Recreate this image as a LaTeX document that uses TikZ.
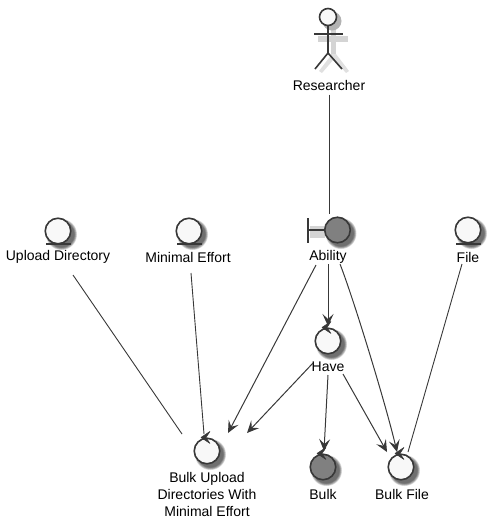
\documentclass[tikz,border=0pt]{standalone}
\usepackage{fontspec}
\setmainfont{Liberation Sans}
\usetikzlibrary{arrows.meta,calc}

\definecolor{linegray}{HTML}{383838}
\definecolor{lightfill}{HTML}{F8F8F8}
\definecolor{darkfill}{HTML}{808080}

\tikzset{
    lbl/.style={inner sep=0pt, font=\fontsize{14}{17}\selectfont, align=center},
    rob/.style={circle, draw=linegray, line width=1.6pt, minimum size=25.5pt, inner sep=0pt, fill=lightfill},
    robdark/.style={rob, fill=darkfill},
    conn/.style={draw=linegray, line width=0.9pt},
    arr/.style={conn, line width=1pt, -{Stealth[length=12pt, width=11pt, inset=5pt]}},
    tick/.style={draw=linegray, fill=linegray, line width=0.5pt, line join=round}
}

% blurred shadow under a circle
\newcommand{\circshadow}[1]{
    \foreach \r in {15.5,15,14.5,14,13.5,13} {
        \fill[black, opacity=0.13] ($(#1)+(3.5,3.5)$) circle (\r pt);
    }
}

\begin{document}
\begin{tikzpicture}[x=1pt, y=-1pt]
    \useasboundingbox (0,0) rectangle (491,528);

    % shadows go first
    \coordinate (sUpload) at (58,231);
    \coordinate (sMinimal) at (189,231);
    \coordinate (sAbility) at (337.5,230);
    \coordinate (sFile) at (468,230);
    \coordinate (sHave) at (328,341);
    \coordinate (sBulkUpload) at (207,451);
    \coordinate (sBulk) at (323,467);
    \coordinate (sBulkFile) at (401,467);
    \foreach \s in {sUpload,sMinimal,sAbility,sFile,sHave,sBulkUpload,sBulk,sBulkFile} {
        \circshadow{\s}
    }
    \fill[black!17] (318,36) rectangle (348,42);
    \fill[black!17] (331,26) rectangle (336,58);
    \fill[black!12] (332,54) -- (319,71) -- (322,73) -- (334,59) -- (346,73) -- (349,71) -- (336,54) -- cycle;
    \fill[black!30] (332,21) circle (9.5pt);
    \fill[black!17] (310,226) rectangle (325,238);

    % actor
    \node[circle, draw=linegray, line width=1.6pt, minimum size=17pt, inner sep=0pt, fill=lightfill] (researcher) at (328,17) {};
    \draw[linegray, line width=1.6pt] (researcher.south) -- (328,53);
    \draw[linegray, line width=1.6pt] (314,34) -- (343,34);
    \draw[linegray, line width=1.6pt] (315,69) -- (328,53) -- (342,69);
    \node[lbl] (lblResearcher) at (329,85.5) {Researcher};

    % robustness circles
    \node[rob] (upload) at (sUpload) {};
    \node[rob] (minimal) at (sMinimal) {};
    \node[robdark] (ability) at (sAbility) {};
    \node[rob] (file) at (sFile) {};
    \node[rob] (have) at (sHave) {};
    \node[rob] (bulkupload) at (sBulkUpload) {};
    \node[robdark] (bulk) at (sBulk) {};
    \node[rob] (bulkfile) at (sBulkFile) {};

    % entity underlines and boundary bar
    \draw[linegray, line width=1.6pt] (46,244) -- (71,244);
    \draw[linegray, line width=1.6pt] (177,244) -- (202,244);
    \draw[linegray, line width=1.6pt] (456,244) -- (481,244);
    \draw[linegray, line width=1.6pt] (308,218) -- (308,243);
    \draw[linegray, line width=1.6pt] (308,230) -- (ability.west);

    % control ticks
    \foreach \n in {have,bulkupload,bulk,bulkfile} {
        \fill[tick] ($(\n.north)+(-6,0)$) -- ($(\n.north)+(3,-6)$) -- ($(\n.north)+(-1,0)$) -- ($(\n.north)+(3,6)$) -- cycle;
    }

    % labels
    \node[lbl] (lblUpload) at (58,257) {Upload Directory};
    \node[lbl] (lblMinimal) at (188,257) {Minimal Effort};
    \node[lbl] (lblAbility) at (328,257) {Ability};
    \node[lbl] (lblFile) at (468,257) {File};
    \node[lbl] (lblHave) at (328,367) {Have};
    \node[lbl] (lblBulkUpload) at (207,494) {Bulk Upload\\Directories With\\Minimal Effort};
    \node[lbl] (lblBulk) at (323,494) {Bulk};
    \node[lbl] (lblBulkFile) at (402,494) {Bulk File};

    % connectors
    \draw[conn] ($(lblResearcher)+(0,9)$) -- ($(ability)+(-8.5,-16)$);
    \draw[conn] ($(lblUpload)+(15,18)$) -- ($(bulkupload)+(-25,-17)$);
    \draw[conn] ($(lblMinimal)+(3,16)$) -- ($(bulkupload)+(-3,-17)$);
    \draw[conn] ($(lblFile)+(-6,7)$) -- ($(bulkfile)+(7,-15)$);
    \draw[arr] ($(lblAbility)+(0,7)$) -- ($(have)+(0,-15)$);
    \draw[arr] ($(lblAbility)+(-12,8)$) -- ($(bulkupload)+(21,-18)$);
    \draw[arr] ($(lblHave)+(-15,-4)$) -- ($(bulkupload)+(40,-18)$);
    \draw[arr] ($(lblHave)+(0,8)$) -- ($(bulk)+(1,-16)$);
    \draw[arr] ($(lblHave)+(15,7)$) -- ($(bulkfile)+(-14,-15)$);
    \draw[arr] ($(lblAbility)+(12,7)$) .. controls (354,300) and (386,405) .. ($(bulkfile)+(-4,-15)$);
\end{tikzpicture}
\end{document}
